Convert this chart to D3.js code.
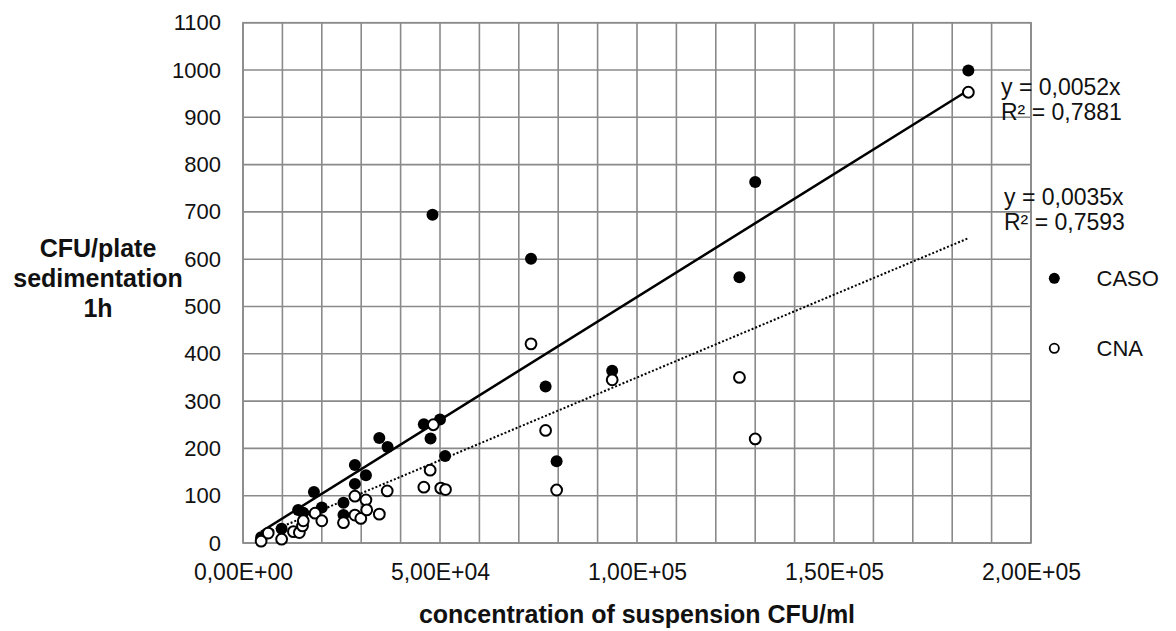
<!DOCTYPE html>
<html>
<head>
<meta charset="utf-8">
<script src="https://cdn.jsdelivr.net/npm/d3@7"></script>
<style>
  html, body { margin: 0; padding: 0; background: #fff; }
  svg { display: block; font-family: "Liberation Sans", Arial, sans-serif; }
</style>
</head>
<body>
<svg id="chart" width="1176" height="631"></svg>
<script>
// ---- data ----
const casoX = [4600, 9800, 14000, 15300, 18000, 20000, 25500, 25500, 28400, 28400, 31200, 34600, 36700, 45900, 47600, 48100, 50000, 51300, 73100, 76800, 79600, 93700, 126000, 130000, 184100];
const casoY = [12, 30, 70, 64, 108, 75, 85, 59, 125, 165, 143, 222, 203, 251, 221, 694, 261, 184, 601, 331, 173, 364, 562, 763, 999];
const cnaX = [4600, 6400, 9800, 12800, 14300, 15100, 15300, 18300, 20000, 25500, 28400, 28400, 29900, 31200, 31400, 34600, 36600, 45900, 47500, 48300, 50200, 51400, 73100, 76800, 79600, 93700, 126000, 130000, 184100];
const cnaY = [4, 21, 8, 24, 22, 36, 47, 63, 47, 43, 59, 99, 52, 91, 70, 61, 110, 118, 154, 250, 116, 113, 421, 238, 112, 345, 350, 220, 953];
const seriesNames = ["CASO", "CNA"];
const slopes = [0.0052, 0.0035];
const r2Labels = ["0,7881", "0,7593"];
const slopeLabels = ["0,0052", "0,0035"];
const xTickValues = [0, 50000, 100000, 150000, 200000];
const yTickValues = [0, 100, 200, 300, 400, 500, 600, 700, 800, 900, 1000, 1100];
const xTitle = "concentration of suspension CFU/ml";
const yTitleLines = ["CFU/plate", "sedimentation", "1h"];

// ---- layout ----
const svg = d3.select("#chart");
const L = 243, R = 1031, T = 22.7, B = 543;
const x = d3.scaleLinear().domain([0, 200000]).range([L, R]);
const y = d3.scaleLinear().domain([0, 1100]).range([B, T]);
const grid = "#8a8a8a";

function fmtE(v) {
  if (v === 0) return "0,00E+00";
  const e = Math.floor(Math.log10(v));
  const m = v / Math.pow(10, e);
  return m.toFixed(2).replace(".", ",") + "E+" + String(e).padStart(2, "0");
}

// gridlines
const gg = svg.append("g");
gg.selectAll("line.vx").data(d3.range(0, 200001, 10000)).join("line")
  .attr("x1", d => x(d)).attr("x2", d => x(d)).attr("y1", T).attr("y2", B)
  .attr("stroke", grid).attr("stroke-width", 1.6);
gg.selectAll("line.hy").data(yTickValues).join("line")
  .attr("x1", L).attr("x2", R).attr("y1", d => y(d)).attr("y2", d => y(d))
  .attr("stroke", grid).attr("stroke-width", 1.6);
gg.append("rect").attr("x", L).attr("y", T).attr("width", R - L).attr("height", B - T)
  .attr("fill", "none").attr("stroke", grid).attr("stroke-width", 1.6);

// axes
const xAxis = svg.append("g").attr("transform", `translate(0,${B})`)
  .call(d3.axisBottom(x).tickValues(xTickValues).tickFormat(fmtE).tickSize(0).tickPadding(21));
const yAxis = svg.append("g").attr("transform", `translate(${L},0)`)
  .call(d3.axisLeft(y).tickValues(yTickValues).tickFormat(d3.format("d")).tickSize(0).tickPadding(22));
[xAxis, yAxis].forEach(a => {
  a.select(".domain").remove();
  a.selectAll("text").attr("fill", "#111")
    .attr("font-family", "'Liberation Sans', Arial, sans-serif");
});
xAxis.selectAll("text").attr("font-size", 23);
yAxis.selectAll("text").attr("font-size", 22);

// trend lines
const xsAll = [casoX, cnaX];
slopes.forEach((s, i) => {
  const ext = d3.extent(xsAll[i]);
  svg.append("line")
    .attr("x1", x(ext[0])).attr("y1", y(s * ext[0]))
    .attr("x2", x(ext[1])).attr("y2", y(s * ext[1]))
    .attr("stroke", "#000")
    .attr("stroke-width", i === 0 ? 2.5 : 2)
    .attr("stroke-dasharray", i === 0 ? null : "2,2");
});

// points
const caso = casoX.map((v, i) => [v, casoY[i]]);
const cna = cnaX.map((v, i) => [v, cnaY[i]]);
svg.append("g").selectAll("circle").data(caso).join("circle")
  .attr("cx", d => x(d[0])).attr("cy", d => y(d[1])).attr("r", 6)
  .attr("fill", "#000");
svg.append("g").selectAll("circle").data(cna).join("circle")
  .attr("cx", d => x(d[0])).attr("cy", d => y(d[1])).attr("r", 5.4)
  .attr("fill", "#fff").attr("stroke", "#000").attr("stroke-width", 2);

// trend labels
const labelPos = [[1001, 86.7], [1004, 196.7]];
slopes.forEach((s, i) => {
  const g = svg.append("g").attr("font-size", 23).attr("fill", "#111");
  g.append("text").attr("x", labelPos[i][0]).attr("y", labelPos[i][1]).attr("dy", "0.35em")
    .text(`y = ${slopeLabels[i]}x`);
  g.append("text").attr("x", labelPos[i][0]).attr("y", labelPos[i][1] + 25).attr("dy", "0.35em")
    .text(`R² = ${r2Labels[i]}`);
});

// legend
const lg = svg.append("g");
const legY = [278.3, 348.3];
seriesNames.forEach((n, i) => {
  if (i === 0) {
    lg.append("circle").attr("cx", 1054.3).attr("cy", legY[i]).attr("r", 5.5).attr("fill", "#000");
  } else {
    lg.append("circle").attr("cx", 1054.3).attr("cy", legY[i]).attr("r", 4.6)
      .attr("fill", "#fff").attr("stroke", "#000").attr("stroke-width", 1.8);
  }
  lg.append("text").attr("x", 1096.5).attr("y", legY[i]).attr("dy", "0.35em")
    .attr("font-size", 22).attr("fill", "#111").text(n);
});

// axis titles
svg.append("text").attr("x", (L + R) / 2).attr("y", 614).attr("dy", "0.35em")
  .attr("text-anchor", "middle").attr("font-size", 25).attr("font-weight", "bold")
  .attr("fill", "#111").text(xTitle);
const yt = svg.append("text").attr("text-anchor", "middle").attr("font-size", 25)
  .attr("font-weight", "bold").attr("fill", "#111");
yTitleLines.forEach((t, i) => {
  yt.append("tspan").attr("x", 98).attr("y", 248 + i * 30).attr("dy", "0.35em").text(t);
});
</script>
</body>
</html>
